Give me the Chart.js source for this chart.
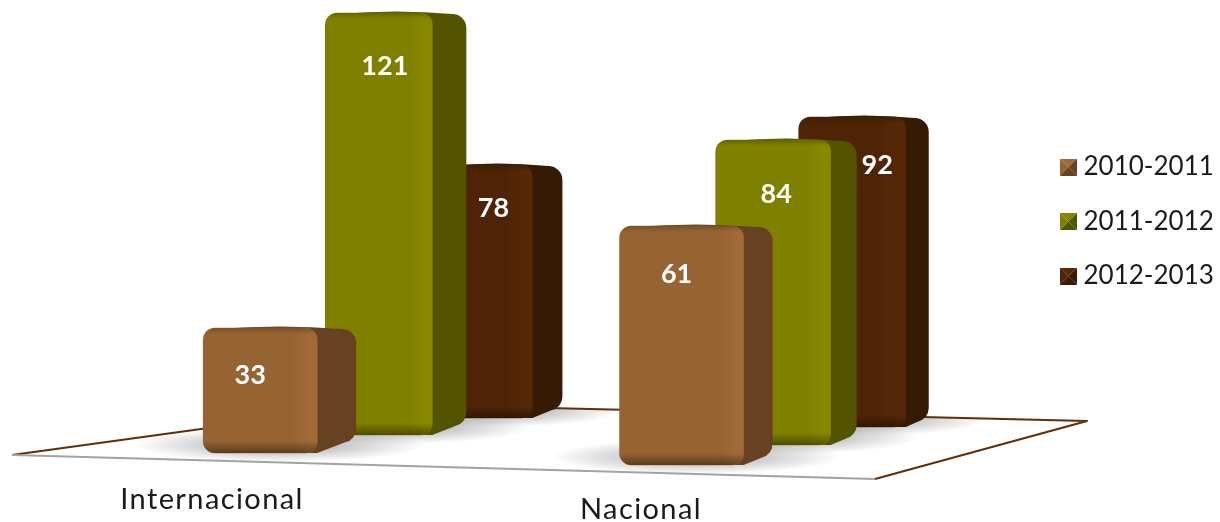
<!DOCTYPE html>
<html>
<head>
<meta charset="utf-8">
<style>
  html,body{margin:0;padding:0;background:#fff;}
  #wrap{width:1220px;height:522px;}
  canvas{display:block;}
</style>
<script src="https://cdn.jsdelivr.net/npm/chart.js@4"></script>
</head>
<body>
<div id="wrap"><canvas id="chart" width="1220" height="522"></canvas></div>
<script>
// Datos
const categories = ['Internacional','Nacional'];
const seriesNames = ['2010-2011','2011-2012','2012-2013'];
const values2010 = [33,61];
const values2011 = [121,84];
const values2012 = [78,92];

// Perspectiva (una fila por serie, de delante hacia atras)
const PLOT_W = 1033.3;
const xCenters = [[260,681],[378.5,772.5],[482,851.5]];
const yAnchors = [[33,328,61,226],[121,13,84,140],[78,165,92,117]];
const floorBase = [[453,465],[435,445],[418,427]];
const barWidths = [[114,124],[107,115],[100,107]];
const sideDepth = [[39,29],[34,26],[30,23]];
const labelOffset = [[[-10,47],[-5,48]],[[6,53],[3,54]],[[11,43],[25,48]]];
const catLabelPos = [[212,500],[641,510]];
const frontColors = ['#966432','#808000','#4f2406'];
const sideColors = ['#664222','#545400','#361a04'];
const stripColors = ['#a06b37','#888800','#572808'];

function xRange(i){
  const c = xCenters[i], unit = c[1]-c[0];
  return { min:-c[0]/unit, max:(PLOT_W-c[0])/unit };
}
function yRange(i){
  const a = yAnchors[i], k = (a[1]-a[3])/(a[2]-a[0]);
  const y0 = a[1]+a[0]*k;
  return { min:-(522-y0)/k, max:y0/k };
}
function hidden(type,r){
  return { type:type, display:false, offset:false, min:r.min, max:r.max, bounds:'data', grid:{display:false} };
}

function legendIcon(i){
  const c = document.createElement('canvas');
  c.width = 17; c.height = 17;
  const g = c.getContext('2d');
  const tri = (col,x1,y1,x2,y2) => {
    g.fillStyle = col; g.beginPath();
    g.moveTo(x1,y1); g.lineTo(x2,y2); g.lineTo(8.5,8.5); g.closePath(); g.fill();
  };
  tri(stripColors[i],0,0,17,0);
  tri(frontColors[i],0,0,0,17);
  tri(sideColors[i],17,0,17,17);
  tri(sideColors[i],0,17,17,17);
  return c;
}

const floorPts = [[12,455],[383,404],[1087,421],[875,479]];

function floorPath(ctx){
  ctx.beginPath();
  floorPts.forEach((p,i) => i ? ctx.lineTo(p[0],p[1]) : ctx.moveTo(p[0],p[1]));
  ctx.closePath();
}

// Suelo, sombras, caras laterales y brillo de las barras
const depthBars = {
  id:'depthBars',
  afterLayout(chart){
    const lg = chart.legend;
    lg.left = 1066.5 - lg.options.labels.padding;
    lg.top = 154 - lg.options.labels.padding;
  },
  afterDatasetUpdate(chart,args){
    const s = args.index;
    args.meta.data.forEach((el,c) => {
      el.width = barWidths[s][c];
      el.base = floorBase[s][c];
    });
  },
  beforeDatasetsDraw(chart){
    const ctx = chart.ctx;
    ctx.save();
    floorPath(ctx);
    ctx.fillStyle = '#fff';
    ctx.fill();
    ctx.clip();
    chart.getSortedVisibleDatasetMetas().forEach(meta => {
      const s = meta.index;
      meta.data.forEach((el,c) => {
        const w = barWidths[s][c], d = sideDepth[s][c];
        const cx = el.x + d/2, cy = el.base - 8;
        const rx = (w+d)*0.95, ry = 17;
        ctx.save();
        ctx.translate(cx,cy);
        ctx.scale(1,ry/rx);
        const g = ctx.createRadialGradient(0,0,rx*0.3,0,0,rx);
        g.addColorStop(0,'rgba(0,0,0,.26)');
        g.addColorStop(1,'rgba(0,0,0,0)');
        ctx.fillStyle = g;
        ctx.beginPath();
        ctx.arc(0,0,rx,0,Math.PI*2);
        ctx.fill();
        ctx.restore();
      });
    });
    ctx.restore();

    // bordes del suelo
    ctx.save();
    ctx.lineWidth = 2;
    ctx.lineJoin = 'round';
    ctx.strokeStyle = '#5f2e0a';
    ctx.beginPath();
    ctx.moveTo(floorPts[0][0],floorPts[0][1]);
    ctx.lineTo(floorPts[1][0],floorPts[1][1]);
    ctx.lineTo(floorPts[2][0],floorPts[2][1]);
    ctx.lineTo(floorPts[3][0],floorPts[3][1]);
    ctx.stroke();
    ctx.strokeStyle = '#a3a3a3';
    ctx.beginPath();
    ctx.moveTo(floorPts[3][0],floorPts[3][1]);
    ctx.lineTo(floorPts[0][0],floorPts[0][1]);
    ctx.stroke();
    ctx.restore();
  },
  beforeDatasetDraw(chart,args){
    const ctx = chart.ctx, s = args.index;
    args.meta.data.forEach((el,c) => {
      const w = barWidths[s][c], d = sideDepth[s][c];
      const l = el.x - w/2, r = el.x + w/2, top = el.y, base = el.base;
      const rise = d/3, rad = 14;
      ctx.save();
      ctx.beginPath();
      ctx.moveTo(l+rad,top+1);
      ctx.quadraticCurveTo(l+(w+d)*0.5,top-4,r+d-rad,top+1);
      ctx.arcTo(r+d,top+2,r+d,top+2+rad,rad);
      ctx.lineTo(r+d,base-rise-rad);
      ctx.arcTo(r+d,base-rise,r+d-rad,base-rise+3,rad);
      ctx.lineTo(r,base);
      ctx.lineTo(l+rad,base);
      ctx.closePath();
      ctx.fillStyle = sideColors[s];
      ctx.fill();
      ctx.restore();
    });
  },
  afterDatasetDraw(chart,args){
    const ctx = chart.ctx, s = args.index;
    args.meta.data.forEach((el,c) => {
      const w = barWidths[s][c];
      const l = el.x - w/2, top = el.y, base = el.base;
      ctx.save();
      ctx.beginPath();
      ctx.roundRect(l,top,w,base-top,12);
      ctx.clip();
      // franja clara a la derecha
      const gx = ctx.createLinearGradient(l+w-26,0,l+w,0);
      gx.addColorStop(0,stripColors[s]+'00');
      gx.addColorStop(0.75,stripColors[s]);
      gx.addColorStop(1,stripColors[s]);
      ctx.fillStyle = gx;
      ctx.fillRect(l,top,w,base-top);
      // canto inferior oscuro
      const gy = ctx.createLinearGradient(0,base-12,0,base);
      gy.addColorStop(0,'rgba(0,0,0,0)');
      gy.addColorStop(1,'rgba(0,0,0,.4)');
      ctx.fillStyle = gy;
      ctx.fillRect(l,base-12,w,12);
      // canto superior
      const gt = ctx.createLinearGradient(0,top,0,top+6);
      gt.addColorStop(0,sideColors[s]+'99');
      gt.addColorStop(1,sideColors[s]+'00');
      ctx.fillStyle = gt;
      ctx.fillRect(l,top,w,6);
      ctx.restore();
    });
  },
  afterDatasetsDraw(chart){
    const ctx = chart.ctx;
    ctx.save();
    ctx.textAlign = 'center';
    ctx.textBaseline = 'middle';
    ctx.font = 'bold 27px Lato';
    ctx.fillStyle = '#fff';
    chart.getSortedVisibleDatasetMetas().forEach(meta => {
      const s = meta.index;
      meta.data.forEach((el,c) => {
        const o = labelOffset[s][c];
        ctx.fillText(chart.data.datasets[s].data[c].y, el.x+o[0], el.y+o[1]);
      });
    });
    ctx.font = '29px Lato';
    ctx.letterSpacing = '1.4px';
    ctx.fillStyle = '#1a1a1a';
    categories.forEach((t,i) => ctx.fillText(t,catLabelPos[i][0],catLabelPos[i][1]));
    ctx.restore();
  }
};

const seriesValues = [values2010,values2011,values2012];

new Chart(document.getElementById('chart'),{
  type:'bar',
  data:{
    datasets:seriesNames.map((name,i) => ({
      label:name,
      data:seriesValues[i].map((v,c) => ({x:c,y:v})),
      xAxisID:'x'+i,
      yAxisID:'y'+i,
      grouped:false,
      backgroundColor:frontColors[i],
      borderWidth:0,
      borderRadius:12,
      borderSkipped:false,
      barThickness:barWidths[i][0],
      clip:false
    }))
  },
  options:{
    responsive:true,
    maintainAspectRatio:false,
    animation:false,
    layout:{ padding:0 },
    scales:{
      x0:hidden('linear',xRange(0)), y0:hidden('linear',yRange(0)),
      x1:hidden('linear',xRange(1)), y1:hidden('linear',yRange(1)),
      x2:hidden('linear',xRange(2)), y2:hidden('linear',yRange(2))
    },
    plugins:{
      tooltip:{ enabled:false },
      legend:{
        position:'right',
        align:'start',
        labels:{
          usePointStyle:true,
          pointStyleWidth:4,
          padding:28.5,
          color:'#1a1a1a',
          font:{ family:'Lato', size:26, lineHeight:1.2 },
          generateLabels(chart){
            return Chart.defaults.plugins.legend.labels.generateLabels(chart)
              .map((it,i) => Object.assign(it,{ pointStyle:legendIcon(i) }));
          }
        }
      }
    }
  },
  plugins:[depthBars]
});
</script>
</body>
</html>
